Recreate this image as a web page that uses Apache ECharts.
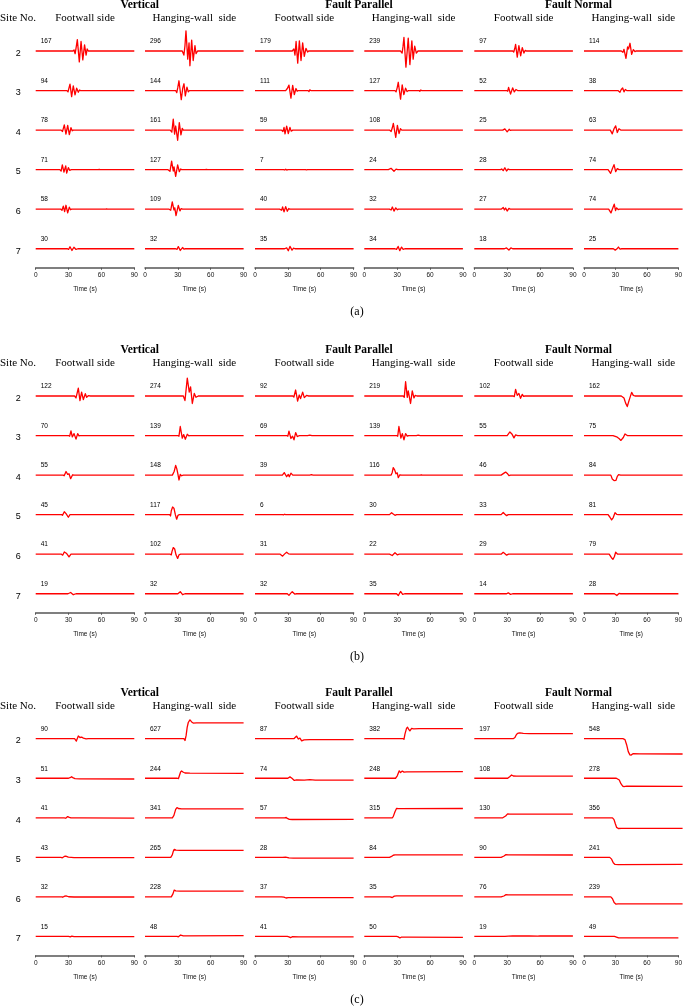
<!DOCTYPE html>
<html><head><meta charset="utf-8">
<script src="https://cdn.jsdelivr.net/npm/echarts@6/dist/echarts.min.js"></script>
<style>html,body{margin:0;padding:0;background:#fff}#c{width:685px;height:1006px}</style>
</head><body><div id="c"></div>
<script>
// ---------- DATA ----------
const timeTicks = [0, 30, 60, 90];
const siteNos = ['2', '3', '4', '5', '6', '7'];
const components = ['Vertical', 'Fault Parallel', 'Fault Normal'];
const sides = ['Footwall side', 'Hanging-wall  side'];
const panelLabels = ['(a)', '(b)', '(c)'];

const peaksA = [[167,296,179,239,97,114],[94,144,111,127,52,38],[78,161,59,108,25,63],[71,127,7,24,28,74],[58,109,40,32,27,74],[30,32,35,34,18,25]];
const peaksB = [[122,274,92,219,102,162],[70,139,69,139,55,75],[55,148,39,116,46,84],[45,117,6,30,33,81],[41,102,31,22,29,79],[19,32,32,35,14,28]];
const peaksC = [[90,627,87,382,197,548],[51,244,74,248,108,278],[41,341,57,315,130,356],[43,265,28,84,90,241],[32,228,37,35,76,239],[15,48,41,50,19,49]];

// (a) acceleration traces: [time s, value]
const tracesA = [
 [ [[0,0],[34,0],[35,15],[36,-40],[37,60],[38,167],[39.8,-160],[41.4,140],[43,-130],[44.6,90],[46,-60],[47,30],[48,0],[90,0]],
   [[0,0],[34,0],[35.5,-60],[36.5,80],[37.4,296],[39,-120],[40.2,120],[41,-217],[42.6,160],[44,-140],[45.6,80],[46.6,-40],[48,0],[90,0]],
   [[0,0],[34,0],[35.5,30],[36.5,-60],[37.5,140],[39,-179],[40.5,150],[42,-140],[43.5,120],[45,-80],[46.5,40],[48,-15],[49,0],[90,0]],
   [[0,0],[33,0],[34.5,-30],[35.3,60],[36.2,200],[38,-239],[40.1,190],[41.6,-200],[43.4,150],[44.6,-120],[46,70],[47.5,-30],[49,0],[90,0]],
   [[0,0],[35,0],[36,-15],[37,40],[37.7,97],[39.2,-90],[40.7,80],[42.3,-70],[43.8,50],[45.3,-30],[46.5,10],[47.5,0],[90,0]],
   [[0,0],[34,0],[35.5,-20],[36.5,25],[38.3,-110],[39.8,60],[40.7,30],[42,114],[43.5,-50],[45,20],[46.5,-8],[47.5,0],[90,0]] ],
 [ [[0,0],[28.5,0],[29.5,-20],[30.4,40],[31.3,94],[32.8,-90],[34.3,70],[35.9,-65],[37.4,35],[38.9,-25],[40,8],[41,0],[90,0]],
   [[0,0],[28,0],[29,-30],[30,50],[31,144],[33.1,-135],[34.5,40],[35.6,100],[36.8,-80],[38.3,50],[39.5,-20],[40.5,0],[90,0]],
   [[0,0],[28,0],[29.5,30],[31,80],[32.8,-111],[34.4,75],[35.9,-60],[37.4,30],[38.5,-10],[39.5,0],[48.5,0],[49.3,-15],[50,10],[51,0],[90,0]],
   [[0,0],[28,0],[29,-20],[30,40],[31,122],[33.1,-127],[34.6,85],[36.1,-60],[37.7,35],[39,-15],[40.5,0],[50,0],[50.7,-12],[51.5,8],[52.5,0],[90,0]],
   [[0,0],[29.5,0],[30.5,-10],[31.3,45],[33.1,-52],[35,40],[36.5,-20],[38,15],[39.5,0],[90,0]],
   [[0,0],[31,0],[32.8,-25],[34,15],[35.3,38],[36.5,-20],[37.7,15],[39,0],[90,0]] ],
 [ [[0,0],[23,0],[24.5,-20],[26.1,78],[27.6,-60],[29.2,70],[30.7,-65],[32.2,35],[33.3,-10],[34.3,0],[90,0]],
   [[0,0],[23,0],[24.5,-30],[25.8,161],[27,-60],[28,60],[29.8,-150],[31.3,110],[32.8,-70],[34,25],[35,0],[90,0]],
   [[0,0],[24,0],[25.5,-20],[26.5,40],[27.4,-55],[28.9,59],[30.4,-50],[31.9,40],[33,-15],[34.5,0],[90,0]],
   [[0,0],[23,0],[24.5,-20],[25.5,30],[26.5,100],[28.7,-108],[30.2,70],[31.7,-50],[33,20],[34.2,0],[90,0]],
   [[0,0],[26,0],[27.9,18],[30,-25],[31.8,12],[33,-5],[34,0],[90,0]],
   [[0,0],[24,0],[25.8,-55],[27.4,20],[28.9,63],[30.4,-35],[31.9,20],[33.5,0],[90,0]] ],
 [ [[0,0],[22,0],[23.2,-20],[24.3,71],[25.8,-35],[27.4,55],[28.3,-50],[29.8,30],[31,-10],[32.5,0],[57,0],[58,4],[59,0],[90,0]],
   [[0,0],[21,0],[22.8,-25],[24.3,127],[25.8,-20],[26.5,40],[28,-100],[29.8,70],[31.3,-30],[32.5,10],[33.5,0],[55,0],[56,5],[57,0],[90,0]],
   [[0,0],[26,0],[27,-5],[28,7],[29,-6],[30,0],[46,0],[47,-4],[48,0],[90,0]],
   [[0,0],[22,0],[24.4,20],[27.1,-24],[29,8],[30.5,0],[90,0]],
   [[0,0],[24,0],[25,10],[26.4,-15],[27.9,28],[29.4,-20],[30.9,10],[32,0],[90,0]],
   [[0,0],[22,0],[24.3,-55],[25.8,10],[27.4,74],[28.9,-30],[30.4,15],[32,0],[90,0]] ],
 [ [[0,0],[23,0],[24,-15],[25.2,45],[26.4,-35],[27.6,58],[29.2,-55],[30.7,30],[31.8,-8],[32.8,0],[64,0],[64.7,4],[65.5,0],[90,0]],
   [[0,0],[22,0],[23.5,-15],[24.9,109],[26.4,-10],[27.2,20],[28.3,-95],[30.4,55],[31.9,-25],[33,8],[34.3,0],[90,0]],
   [[0,0],[22.5,0],[24.3,-15],[25.2,35],[26.5,-40],[28,38],[29.5,-30],[30.8,10],[31.9,0],[90,0]],
   [[0,0],[23,0],[24.5,-12],[25.6,32],[27.1,-28],[28.7,20],[30.2,-8],[31.2,0],[90,0]],
   [[0,0],[24.5,0],[26.4,25],[27.5,-10],[28.6,18],[30,-27],[31.6,12],[33,0],[90,0]],
   [[0,0],[22.5,0],[24.6,-55],[26.1,10],[27.6,74],[28.8,-20],[29.8,20],[31.2,-5],[32.5,0],[90,0]] ],
 [ [[0,0],[29,0],[30,-10],[31.3,30],[33.1,-25],[34.9,22],[36.8,-10],[38.5,0],[90,0]],
   [[0,0],[28,0],[29.3,-8],[30.4,32],[32.2,-25],[34.3,18],[35.5,-5],[36.8,0],[90,0]],
   [[0,0],[27,0],[28.9,12],[30.4,-30],[31.9,35],[33.8,-20],[35.2,8],[36.5,0],[90,0]],
   [[0,0],[28,0],[29.4,-10],[30.9,34],[32.4,-28],[34,25],[35.5,-10],[37,0],[90,0]],
   [[0,0],[27.5,0],[29.4,12],[31.6,-18],[33.4,12],[35,0],[90,0]],
   [[0,0],[28,0],[29.8,-20],[31.2,-5],[32.8,25],[34.4,-5],[35.9,0],[90,0]] ]
];

// (b) velocity traces
const tracesB = [
 [ [[0,0],[35.5,0],[36.8,-30],[38.9,122],[40.4,-70],[41.9,60],[43.5,-55],[45.3,35],[46.5,-20],[48,5],[50,0],[90,0]],
   [[0,0],[35,0],[36.5,-70],[38.6,274],[40.4,60],[41.6,140],[43.2,-115],[45,40],[46.5,-20],[48.6,0],[90,0]],
   [[0,0],[34.5,0],[35.5,-15],[37.1,92],[38.9,-80],[40.4,15],[41.6,-40],[43.5,60],[45,-25],[47,8],[49,0],[90,0]],
   [[0,0],[35.5,0],[36.5,-20],[37.7,219],[39.2,-20],[40.1,80],[42.2,-115],[43.8,80],[45.3,-30],[46.5,10],[48,0],[90,0]],
   [[0,0],[35.5,0],[36.5,-10],[37.7,102],[39.2,10],[40.7,40],[42.2,-35],[43.8,25],[45,-5],[46.2,0],[90,0]],
   [[0,0],[34,0],[36.5,-30],[38,-110],[39.5,-162],[41.3,-60],[43.5,55],[45,10],[46.5,0],[90,0]] ],
 [ [[0,0],[30,0],[31,-10],[32.2,70],[33.4,-20],[35,30],[36.8,-55],[38.3,30],[39.5,-5],[40.5,0],[90,0]],
   [[0,0],[30,0],[31,-10],[32.2,139],[34,-40],[35.3,15],[36.8,-57],[38.6,20],[40,-5],[41,0],[90,0]],
   [[0,0],[29,0],[30,-10],[31,69],[32.8,-45],[34.3,-10],[35.6,-65],[37.1,45],[38.6,-15],[40.5,0],[48,0],[50,8],[52,0],[90,0]],
   [[0,0],[29.5,0],[30.5,-10],[31.6,139],[33.4,-40],[34.7,30],[36.2,-65],[37.7,30],[39.2,-10],[40.5,0],[47.5,0],[49.2,8],[51,0],[90,0]],
   [[0,0],[30,0],[32.5,55],[34.3,25],[36.2,-35],[37.7,10],[39.5,0],[90,0]],
   [[0,0],[26.5,0],[29.8,-20],[32.2,-50],[33.7,-75],[35.9,-30],[37.4,25],[39.5,0],[90,0]] ],
 [ [[0,0],[25,0],[26,-10],[27.7,55],[29.2,10],[30.4,20],[31.9,-55],[33.7,5],[35,0],[90,0]],
   [[0,0],[25,0],[26.7,60],[28,148],[29,100],[30,20],[31,-75],[32.2,10],[33.4,-10],[35,0],[90,0]],
   [[0,0],[25,0],[26.7,39],[28.9,-25],[30.4,10],[31.3,-25],[32.8,30],[34.5,0],[50,0],[51.5,6],[53,0],[90,0]],
   [[0,0],[24.5,0],[25.5,40],[26.4,116],[27.7,80],[28.9,20],[30.1,35],[31,-40],[32.5,5],[34,0],[51,0],[52,5],[53,0],[90,0]],
   [[0,0],[24.5,0],[27.1,30],[28.6,46],[30.1,25],[31.6,-8],[33.1,0],[90,0]],
   [[0,0],[24.5,0],[25.8,-60],[27.4,-84],[29.2,-80],[30.4,-20],[31.6,8],[33.4,0],[90,0]] ],
 [ [[0,0],[23.5,0],[24.5,-10],[26.1,45],[27.7,15],[29.8,-40],[31.3,0],[90,0]],
   [[0,0],[22.5,0],[23.3,-20],[24,60],[25.2,117],[26.4,100],[27.7,0],[28.9,-70],[30.1,-10],[31.3,0],[90,0]],
   [[0,0],[25,0],[26,-3],[27,6],[28,0],[90,0]],
   [[0,0],[23,0],[24.9,30],[26.4,10],[28,-10],[29.5,0],[90,0]],
   [[0,0],[24.5,0],[26.4,33],[28,5],[29.5,-15],[31,0],[90,0]],
   [[0,0],[22,0],[23.7,-40],[25.2,-81],[26.7,-45],[28.3,30],[29.8,5],[31.3,0],[90,0]] ],
 [ [[0,0],[23.5,0],[24.6,-15],[26.1,35],[28.3,10],[30.4,-41],[32.2,0],[90,0]],
   [[0,0],[23,0],[24,-10],[24.6,40],[25.8,102],[27.1,80],[28.3,-10],[29.8,-65],[31,-10],[32.5,0],[90,0]],
   [[0,0],[23,0],[25.2,-30],[27.1,5],[28.9,31],[30.7,5],[32.5,0],[90,0]],
   [[0,0],[23,0],[25.5,-20],[28,22],[30.1,-10],[31.9,0],[90,0]],
   [[0,0],[24.5,0],[26.4,29],[28,8],[29.5,-15],[31.3,0],[90,0]],
   [[0,0],[23,0],[24.9,-50],[26.4,-79],[27.7,-40],[28.9,30],[30.7,0],[90,0]] ],
 [ [[0,0],[29.5,0],[31.9,19],[34.3,-15],[36.8,0],[90,0]],
   [[0,0],[30,0],[32.2,32],[34.3,-15],[36.5,0],[90,0]],
   [[0,0],[29.5,0],[31,-25],[32.5,5],[34,32],[36.2,-5],[38,0],[90,0]],
   [[0,0],[29.5,0],[31,-28],[33.1,35],[35,-10],[36.8,0],[90,0]],
   [[0,0],[29.5,0],[31,14],[33,-10],[35,0],[90,0]],
   [[0,0],[29,0],[31.3,-28],[33.4,5],[35,0],[90,0]] ]
];

// (c) displacement traces
const tracesC = [
 [ [[0,0],[35.5,0],[37.1,-80],[38.9,90],[40.4,40],[41.9,55],[43.5,20],[46,-5],[48,5],[90,5]],
   [[0,0],[35.5,0],[36.5,-60],[37.5,100],[38.5,380],[39.5,540],[41,627],[42.6,560],[44,520],[47,530],[90,525]],
   [[0,0],[35.5,0],[38,87],[39.5,-10],[41,20],[42.6,-75],[44.7,-40],[50,-30],[90,-30]],
   [[0,0],[35.5,0],[36.2,-20],[37.1,150],[38.6,350],[39.5,382],[40.7,300],[41.6,260],[43.2,345],[45,330],[50,335],[90,338]],
   [[0,0],[35.5,0],[37.1,40],[38.6,150],[40.1,185],[41.6,197],[44.7,175],[50,170],[90,172]],
   [[0,0],[35.5,0],[37.4,-30],[38.9,-200],[40.4,-430],[41.9,-540],[42.9,-548],[45,-495],[51,-505],[90,-510]] ],
 [ [[0,0],[30,0],[31.9,30],[32.8,51],[34.3,10],[35.9,-15],[40,-20],[90,-25]],
   [[0,0],[29.5,0],[30.5,-15],[31.5,100],[32.5,210],[33.4,244],[35,200],[36.5,175],[41,170],[90,165]],
   [[0,0],[30,0],[31.9,45],[33.7,0],[35.9,-74],[38,-55],[45,-60],[50,-45],[55,-60],[90,-65]],
   [[0,0],[28.5,0],[30.1,80],[31.9,248],[33.1,190],[34.7,240],[36.2,205],[38.6,215],[90,218]],
   [[0,0],[30.5,0],[32.5,60],[34,108],[35.6,75],[38.6,70],[90,72]],
   [[0,0],[29.5,0],[32.2,-60],[33.7,-180],[35.3,-260],[36.5,-278],[38.9,-265],[90,-268]] ],
 [ [[0,0],[26,0],[27.4,-15],[29.2,41],[30.7,15],[32.2,-5],[40,-5],[90,-8]],
   [[0,0],[25,0],[26.4,80],[28,280],[29.2,341],[30.4,310],[33.4,300],[90,300]],
   [[0,0],[27,0],[28.5,10],[29.5,-20],[31.3,-50],[34,-57],[90,-50]],
   [[0,0],[25.5,0],[26.4,40],[28,200],[29.5,315],[31,305],[90,310]],
   [[0,0],[26,0],[28.6,60],[30.4,130],[32.5,120],[90,125]],
   [[0,0],[26,0],[27.4,-60],[28.6,-200],[29.8,-320],[31.3,-356],[34.3,-350],[90,-355]] ],
 [ [[0,0],[23,0],[24.3,-15],[26.1,30],[27.4,43],[29.8,5],[35,-10],[90,-12]],
   [[0,0],[23.5,0],[24.9,80],[25.8,200],[26.7,265],[28.3,240],[31.9,235],[90,230]],
   [[0,0],[25,0],[28,10],[31,-20],[35,-28],[90,-25]],
   [[0,0],[23,0],[24.9,30],[26.4,70],[28,84],[90,80]],
   [[0,0],[24.5,0],[27.1,45],[28.9,90],[31,80],[90,78]],
   [[0,0],[23.5,0],[25.2,-60],[26.7,-180],[28.3,-235],[31.3,-241],[90,-235]] ],
 [ [[0,0],[24,0],[24.6,-12],[26.5,25],[27.7,32],[30,5],[35,-3],[90,-3]],
   [[0,0],[24,0],[25.5,100],[26.7,228],[28,200],[31.9,195],[90,195]],
   [[0,0],[24,0],[26.4,-10],[28.3,-37],[30.4,-25],[90,-25]],
   [[0,0],[23.5,0],[25.5,-20],[27.4,25],[29.5,35],[90,33]],
   [[0,0],[24.5,0],[27,30],[29,76],[31,70],[90,68]],
   [[0,0],[24.5,0],[26,-60],[27.5,-190],[29,-239],[31,-230],[90,-232]] ],
 [ [[0,0],[30,0],[31.5,-15],[33,8],[35,-5],[90,-8]],
   [[0,0],[29,0],[30.5,-10],[32.5,48],[35,20],[90,25]],
   [[0,0],[29.5,0],[31,-15],[32.5,-41],[34,-10],[40,-15],[90,-15]],
   [[0,0],[29.5,0],[31,-15],[32.5,-50],[34,-20],[40,-25],[90,-28]],
   [[0,0],[28,0],[31,12],[35,15],[50,19],[58,10],[60,15],[90,15]],
   [[0,0],[29,0],[31,-20],[33,-45],[36,-49],[90,-48]] ]
];

// ---------- LAYOUT ----------
const panels = [
  {traces: tracesA, peaks: peaksA, base: 51,    yMax: 280},
  {traces: tracesB, peaks: peaksB, base: 396,   yMax: 292},
  {traces: tracesC, peaks: peaksC, base: 738.7, yMax: 633}
];
const colX = [35.7, 145, 255, 364.3, 474.3, 584];
const colW = 98.6;
const rowGap = 39.55;
const halfH = 19;
const SERIF = '"Liberation Serif","Times New Roman",serif';
const SANS = '"Liberation Sans",Arial,sans-serif';

const grid = [], xAxis = [], yAxis = [], series = [], graphic = [];
function txt(x, y, text, font, align) {
  graphic.push({type: 'text', x: x, y: y, silent: true,
    style: {text: text, font: font, fill: '#000', textAlign: align || 'center', textVerticalAlign: 'middle', align: align || 'center', verticalAlign: 'middle'}});
}

// Polyline through every data point of the series, positioned by the axes (api.coord)
function traceRenderer(params, api) {
  if (params.dataIndexInside !== 0) return null;
  const pts = [];
  for (let i = 0; i < params.dataInsideLength; i++) {
    pts.push(api.coord([api.value(0, i), api.value(1, i)]));
  }
  return {type: 'polyline', shape: {points: pts},
          style: {stroke: '#ff0000', lineWidth: 1.3, fill: null, lineJoin: 'round'}, silent: true};
}

panels.forEach((P, p) => {
  components.forEach((comp, k) => {
    txt((colX[2*k] + colX[2*k+1] + colW) / 2, P.base - 46, comp, 'bold 11.5px ' + SERIF);
  });
  txt(18, P.base - 32.5, 'Site No.', '11px ' + SERIF);
  colX.forEach((x, c) => txt(x + colW / 2, P.base - 32.5, sides[c % 2], '11px ' + SERIF));
  txt(357, P.base + 260.7, panelLabels[p], '12px ' + SERIF);

  siteNos.forEach((site, r) => {
    const yb = P.base + r * rowGap;
    txt(18.3, yb + 2.3, site, '9px ' + SANS);
    colX.forEach((x, c) => {
      const gi = grid.length;
      grid.push({left: x, top: yb - halfH, width: colW, height: 2 * halfH});
      const isBottom = r === siteNos.length - 1;
      xAxis.push({
        gridIndex: gi, type: 'value', min: timeTicks[0], max: timeTicks[timeTicks.length - 1], interval: 30,
        show: isBottom,
        axisLine: {show: true, onZero: false, lineStyle: {color: '#555', width: 1.5}},
        axisTick: {show: true, length: 2, lineStyle: {color: '#555', width: 1}},
        axisLabel: {fontSize: 6.5, fontFamily: SANS, color: '#111', margin: 4},
        splitLine: {show: false},
        name: 'Time (s)', nameLocation: 'middle', nameGap: 18,
        nameTextStyle: {fontSize: 6.5, fontFamily: SANS, color: '#111'}
      });
      yAxis.push({gridIndex: gi, type: 'value', min: -P.yMax, max: P.yMax, show: false, splitLine: {show: false}});
      series.push({
        type: 'custom', xAxisIndex: gi, yAxisIndex: gi, data: P.traces[r][c],
        encode: {x: 0, y: 1}, renderItem: traceRenderer, clip: false, silent: true
      });
      txt(x + 5, yb - 9.5, String(P.peaks[r][c]), '6.5px ' + SANS, 'left');
    });
  });
});

const chart = echarts.init(document.getElementById('c'), null, {renderer: 'canvas'});
chart.setOption({
  animation: false,
  backgroundColor: '#fff',
  grid: grid, xAxis: xAxis, yAxis: yAxis, series: series, graphic: graphic
});
</script></body></html>
